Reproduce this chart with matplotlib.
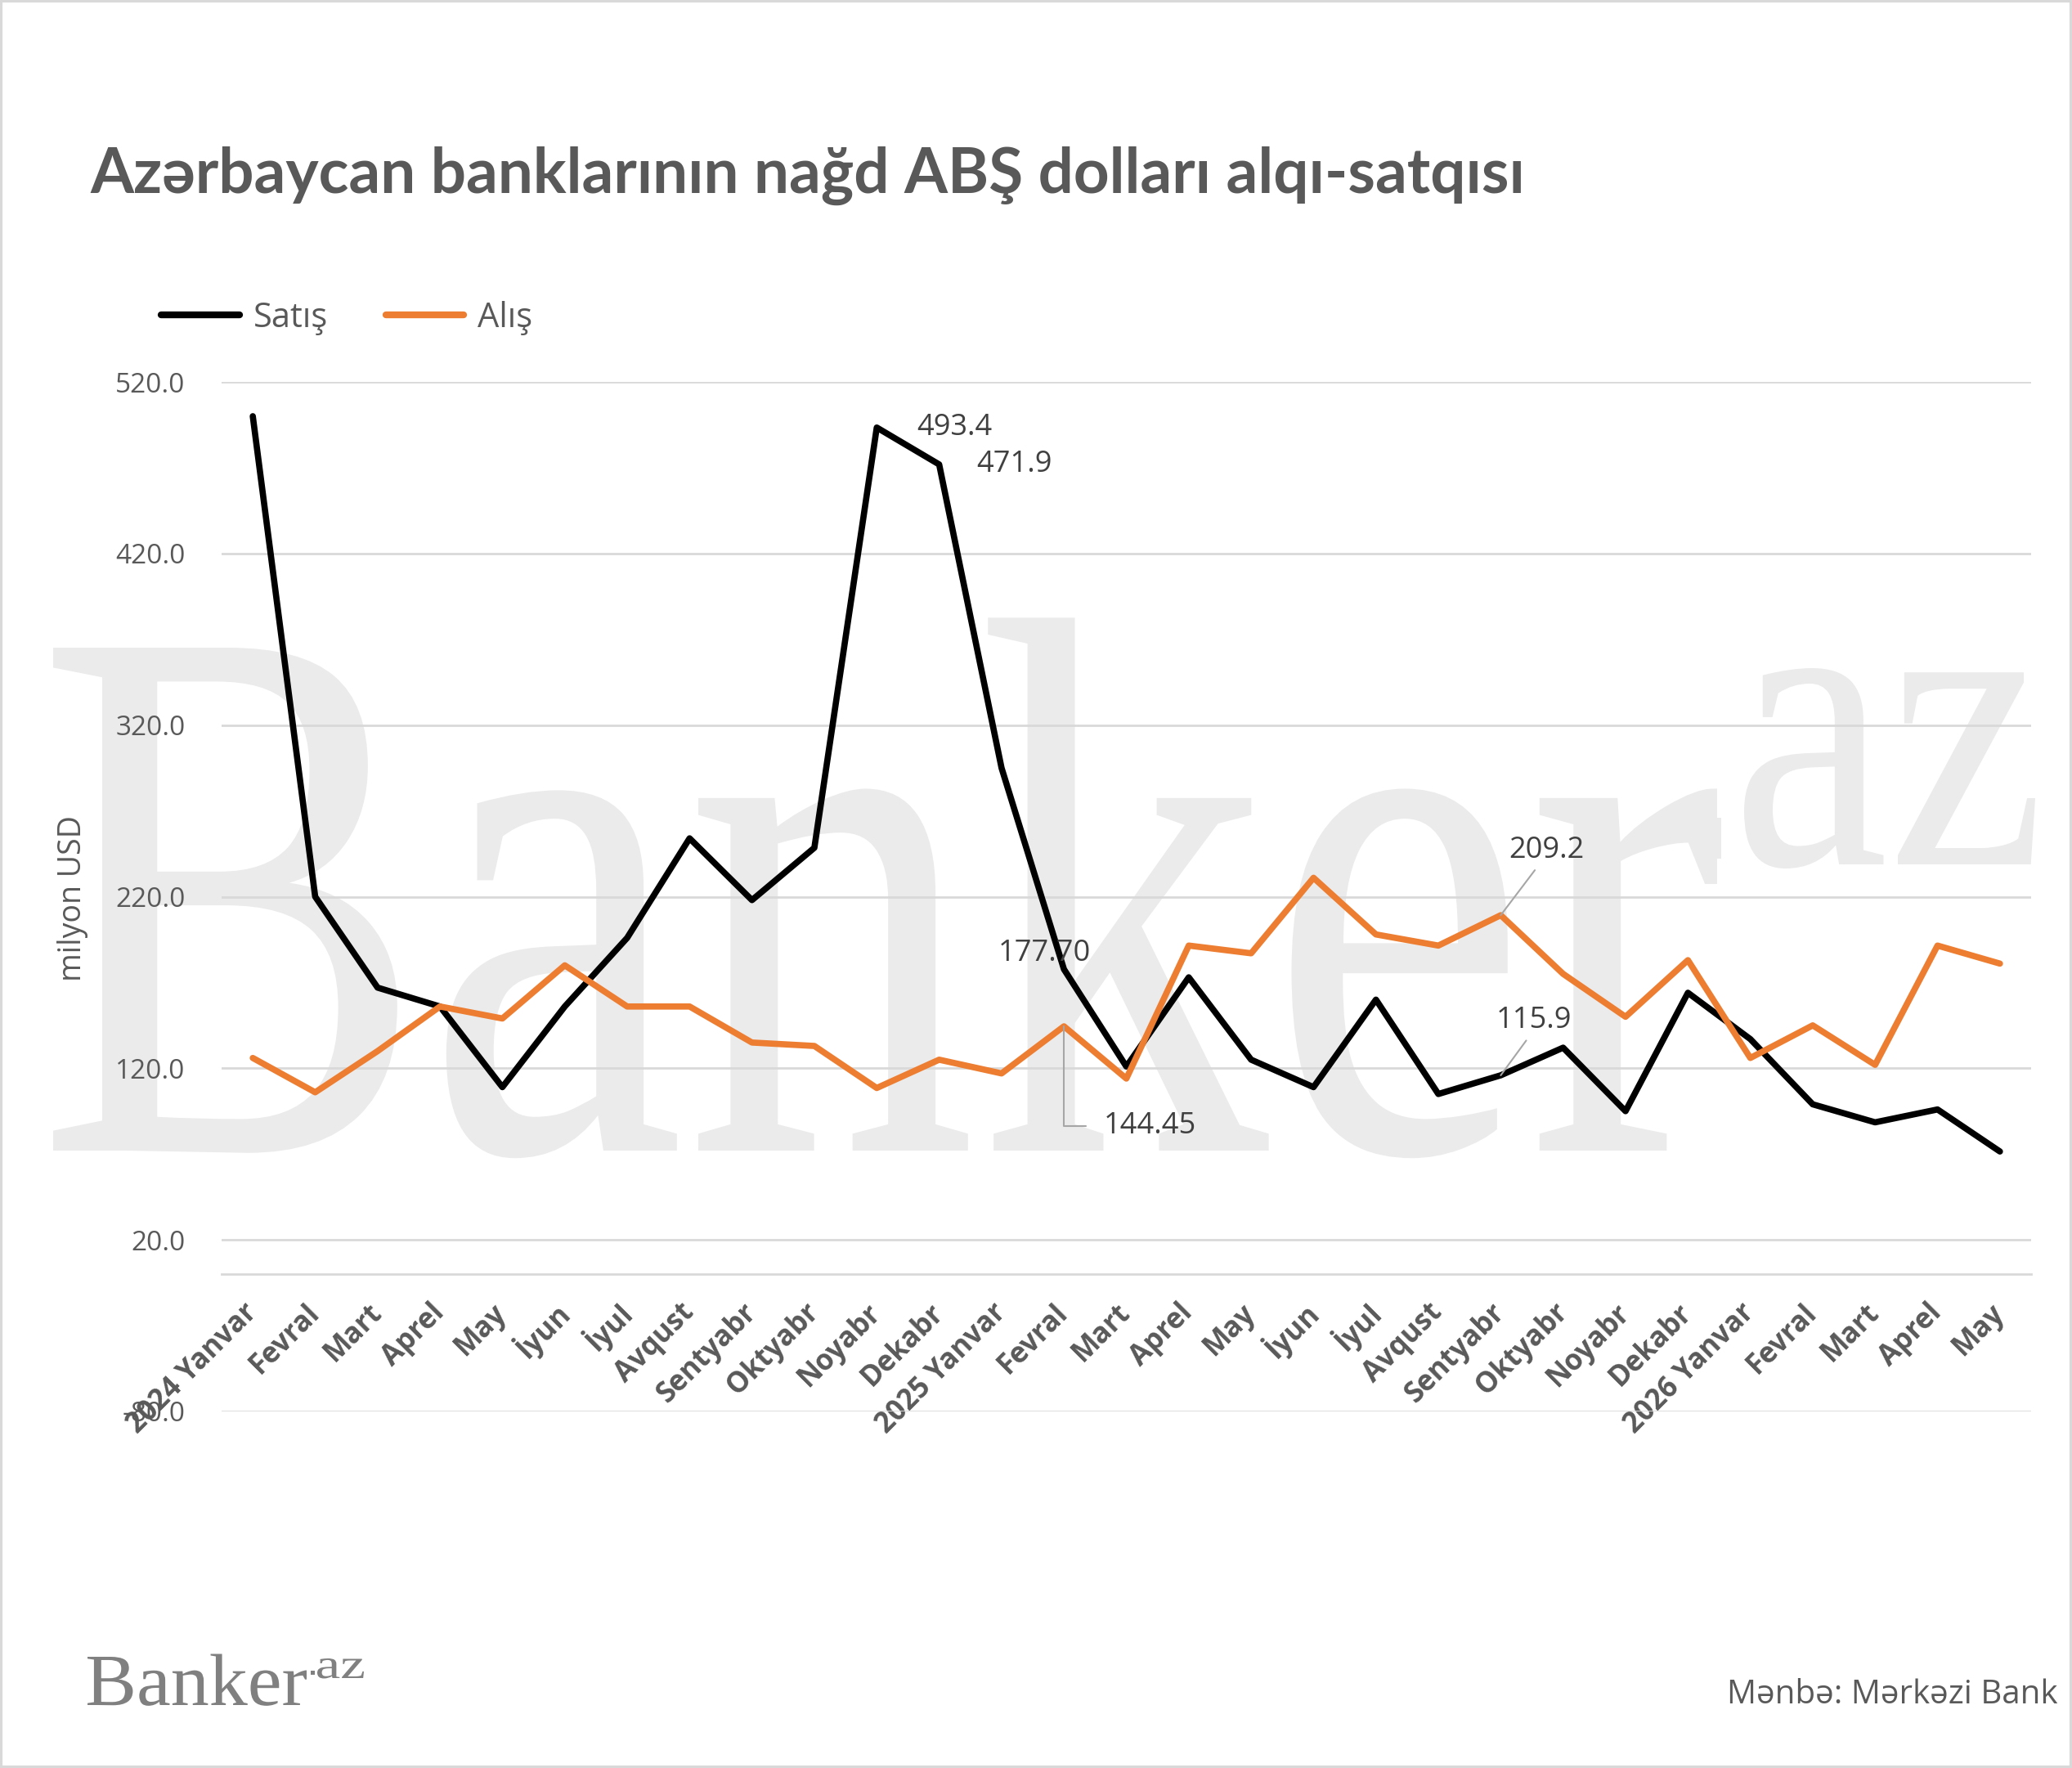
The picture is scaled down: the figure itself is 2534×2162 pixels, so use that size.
import numpy as np
import matplotlib
matplotlib.use("Agg")
import matplotlib.pyplot as plt
from matplotlib.textpath import TextPath
from matplotlib.patches import PathPatch, Rectangle
from matplotlib.font_manager import FontProperties
from matplotlib.transforms import Affine2D
from matplotlib.lines import Line2D

plt.rcParams['font.family'] = ['Open Sans', 'DejaVu Sans']

months = ["Yanvar", "Fevral", "Mart", "Aprel", "May", "İyun", "İyul", "Avqust",
          "Sentyabr", "Oktyabr", "Noyabr", "Dekabr"]
labels = (["2024 Yanvar"] + months[1:] + ["2025 Yanvar"] + months[1:]
          + ["2026 Yanvar"] + months[1:5])

satis = [500, 220, 167, 156, 109, 156, 196, 254, 218, 248.5, 493.4, 471.9,
         295, 177.70, 121, 173, 125, 109, 160, 105, 115.9, 132, 95, 164,
         137, 99, 88.5, 96, 71.5]
alis = [126, 106, 130, 156, 149, 180, 156, 156, 135, 133, 108.5, 125,
        117, 144.45, 114, 191.5, 187, 231, 198, 191.5, 209.2, 175, 150, 183,
        126, 145, 122, 191.5, 181]

W, H = 2534, 2162
fig = plt.figure(figsize=(W / 100, H / 100), dpi=100)
ax = fig.add_axes([271 / W, 1 - 1726 / H, (2484 - 271) / W, (1726 - 467) / H])
ax.set_facecolor('none')

grey = '#595959'
serif = FontProperties(family='Liberation Serif')


def word(txt, x0, x1, base, top, color, z, ref=None):
    # fit a text outline into a pixel box (y counted from top of the image)
    tp = TextPath((0, 0), txt, size=100, prop=serif)
    ext = tp.get_extents()
    hgt = TextPath((0, 0), ref, size=100, prop=serif).get_extents().y1 if ref else ext.y1
    sx = (x1 - x0) / ext.width
    sy = (base - top) / hgt
    tr = (Affine2D().translate(-ext.x0, 0).scale(sx, sy)
          .translate(x0, H - base).scale(1 / W, 1 / H) + fig.transFigure)
    fig.add_artist(PathPatch(tp, transform=tr, fc=color, ec='none', zorder=z))


# watermark
word("Banker", 65, 2100, 1407, 792, '#ebebeb', -2, ref="B")
word("az", 2133, 2489, 1057, 817, '#ebebeb', -2)
fig.add_artist(Rectangle((2085 / W, 1 - 1050 / H), 20 / W, 50 / H,
                         transform=fig.transFigure, fc='#ebebeb', ec='none', zorder=-2))

x = np.arange(len(labels))
ax.plot(x, satis, color='black', lw=5.5, solid_joinstyle='round',
        solid_capstyle='round', zorder=3)
ax.plot(x, alis, color='#ED7D31', lw=5.5, solid_joinstyle='round',
        solid_capstyle='round', zorder=3)

ax.set_xlim(-0.5, len(labels) - 0.5)
ax.set_ylim(-80, 520)
ax.set_yticks(np.arange(-80, 521, 100))
ax.set_yticklabels([f"{v:.1f}" for v in np.arange(-80, 521, 100)])
ax.yaxis.grid(True, color='#d9d9d9', lw=2)
ax.set_axisbelow(True)
for s in ['top', 'right', 'left']:
    ax.spines[s].set_visible(False)
ax.spines['bottom'].set_position(('data', 0))
ax.spines['bottom'].set_color('#d9d9d9')
ax.spines['bottom'].set_linewidth(2)
ax.tick_params(axis='y', length=0, pad=32, labelsize=24, labelcolor=grey)
ax.set_xticks(x)
ax.set_xticklabels(labels, rotation=45, ha='right', va='center',
                   rotation_mode='anchor', fontweight='bold')
ax.tick_params(axis='x', length=0, pad=30, labelsize=25, labelcolor=grey)

# data labels
lab = dict(fontsize=26, color='#404040')
lead = dict(arrowstyle='-', color='#a6a6a6', lw=1.5, shrinkB=0)
ax.annotate("493.4", (10, satis[10]), xytext=(35, 0), textcoords='offset points',
            ha='left', va='center', **lab)
ax.annotate("471.9", (11, satis[11]), xytext=(33, 0), textcoords='offset points',
            ha='left', va='center', **lab)
ax.annotate("177.70", (13, satis[13]), xytext=(-17, 14), textcoords='offset points',
            ha='center', va='center', **lab)
ax.annotate("144.45", (13, alis[13]), xytext=(35, -88), textcoords='offset points',
            ha='left', va='center',
            arrowprops=dict(connectionstyle="angle,angleA=0,angleB=90,rad=0",
                            relpos=(0, 0.5), shrinkA=14, **lead), **lab)
ax.annotate("209.2", (20, alis[20]), xytext=(40, 57), textcoords='offset points',
            ha='center', va='center',
            arrowprops=dict(relpos=(0.4, 0), shrinkA=3, **lead), **lab)
ax.annotate("115.9", (20, satis[20]), xytext=(29, 48), textcoords='offset points',
            ha='center', va='center',
            arrowprops=dict(relpos=(0.45, 0), shrinkA=3, **lead), **lab)

# title, legend, axis label, source
fig.text(110 / W, 1 - 236 / H, "Azərbaycan banklarının nağd ABŞ dolları alqı-satqısı",
         fontsize=55, fontweight='bold', color=grey, va='baseline', ha='left',
         family=['Lato', 'DejaVu Sans'])
handles = [Line2D([], [], color='black', lw=6, solid_capstyle='round'),
           Line2D([], [], color='#ED7D31', lw=6, solid_capstyle='round')]
fig.legend(handles, ["Satış", "Alış"], loc='center left',
           bbox_to_anchor=(197 / W, 1 - 389 / H), bbox_transform=fig.transFigure,
           ncol=2, frameon=False, fontsize=30, labelcolor=grey, handlelength=2.3,
           handletextpad=0.4, columnspacing=1.7, borderpad=0, borderaxespad=0)
fig.text(89 / W, 1 - 1099 / H, "milyon USD", rotation=90, fontsize=27, color=grey,
         ha='center', va='center')
fig.text(2516 / W, 1 - 2073 / H, "Mənbə: Mərkəzi Bank", fontsize=29, color=grey,
         ha='right', va='center')

# footer logo
word("Banker", 107, 375, 2085, 2026, '#808080', 2, ref="B")
word("az", 388, 445, 2052, 2028, '#808080', 2)
fig.add_artist(Rectangle((380 / W, 1 - 2048 / H), 5 / W, 5 / H,
                         transform=fig.transFigure, fc='#808080', ec='none'))

fig.add_artist(Rectangle((0.0005, 0.0005), 0.999, 0.999, transform=fig.transFigure,
                         fc='none', ec='#d9d9d9', lw=3))

fig.savefig("out.png", dpi=100)
